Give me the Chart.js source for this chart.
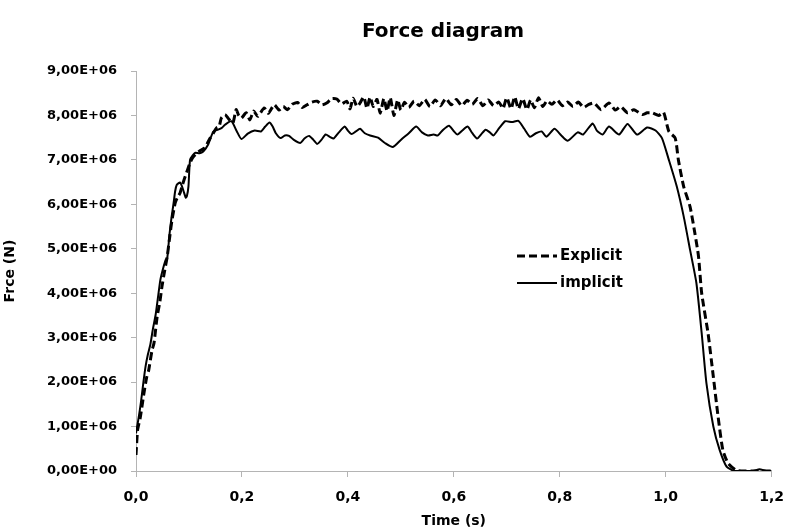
<!DOCTYPE html>
<html>
<head>
<meta charset="utf-8">
<script src="https://cdn.jsdelivr.net/npm/chart.js@4"></script>
<style>
  html, body { margin: 0; padding: 0; background: #fff; }
  #wrap { width: 796px; height: 532px; }
</style>
</head>
<body>
<div id="wrap"><canvas id="forceChart" width="796" height="532"></canvas></div>
<script>
// time in s, force in MN (1E+06 N)
const explicitTime = [0.000, 0.003, 0.008, 0.015, 0.020, 0.024, 0.030, 0.034, 0.040, 0.045, 0.049, 0.054, 0.059, 0.064, 0.068, 0.074, 0.078, 0.083, 0.088, 0.093, 0.098, 0.102, 0.107, 0.112, 0.120, 0.130, 0.135, 0.140, 0.146, 0.152, 0.157, 0.161, 0.168, 0.175, 0.183, 0.189, 0.194, 0.199, 0.208, 0.215, 0.222, 0.230, 0.242, 0.250, 0.261, 0.270, 0.278, 0.286, 0.295, 0.305, 0.314, 0.323, 0.332, 0.342, 0.351, 0.360, 0.370, 0.379, 0.388, 0.398, 0.404, 0.410, 0.417, 0.423, 0.430, 0.436, 0.442, 0.448, 0.455, 0.461, 0.468, 0.474, 0.480, 0.487, 0.494, 0.500, 0.507, 0.515, 0.525, 0.535, 0.545, 0.555, 0.565, 0.575, 0.585, 0.595, 0.605, 0.615, 0.625, 0.635, 0.645, 0.655, 0.665, 0.675, 0.685, 0.693, 0.700, 0.708, 0.715, 0.722, 0.730, 0.738, 0.745, 0.752, 0.760, 0.768, 0.776, 0.785, 0.795, 0.805, 0.815, 0.825, 0.835, 0.845, 0.855, 0.865, 0.878, 0.893, 0.905, 0.915, 0.928, 0.940, 0.956, 0.965, 0.974, 0.987, 0.996, 1.006, 1.018, 1.024, 1.034, 1.046, 1.055, 1.062, 1.068, 1.080, 1.090, 1.099, 1.108, 1.118, 1.133, 1.150, 1.200];
const explicitForce = [0.36, 0.92, 1.20, 1.75, 2.10, 2.27, 2.70, 2.88, 3.48, 3.80, 4.15, 4.50, 4.83, 5.30, 5.65, 6.03, 6.15, 6.25, 6.45, 6.63, 6.80, 6.93, 7.05, 7.12, 7.20, 7.27, 7.38, 7.49, 7.60, 7.72, 7.75, 7.94, 8.02, 7.92, 7.83, 8.13, 8.00, 7.94, 8.06, 7.90, 8.10, 7.98, 8.17, 8.05, 8.24, 8.12, 8.20, 8.13, 8.25, 8.29, 8.18, 8.24, 8.30, 8.32, 8.24, 8.28, 8.38, 8.37, 8.26, 8.32, 8.15, 8.39, 8.20, 8.28, 8.42, 8.16, 8.41, 8.20, 8.36, 8.05, 8.38, 8.10, 8.40, 8.00, 8.35, 8.12, 8.30, 8.18, 8.32, 8.22, 8.36, 8.20, 8.35, 8.22, 8.38, 8.24, 8.36, 8.22, 8.34, 8.25, 8.38, 8.22, 8.35, 8.22, 8.30, 8.16, 8.40, 8.15, 8.42, 8.15, 8.38, 8.13, 8.35, 8.17, 8.40, 8.20, 8.33, 8.25, 8.35, 8.22, 8.30, 8.20, 8.30, 8.18, 8.25, 8.28, 8.13, 8.28, 8.12, 8.20, 8.06, 8.13, 8.02, 8.06, 8.06, 8.00, 8.07, 7.64, 7.49, 7.00, 6.40, 5.95, 5.36, 4.83, 4.00, 3.10, 2.12, 1.22, 0.47, 0.17, 0.02, 0.00, 0.00];

const implicitTime = [0.000, 0.005, 0.009, 0.014, 0.018, 0.022, 0.027, 0.032, 0.037, 0.042, 0.046, 0.051, 0.056, 0.059, 0.063, 0.067, 0.071, 0.074, 0.077, 0.083, 0.087, 0.090, 0.094, 0.096, 0.099, 0.102, 0.107, 0.112, 0.120, 0.127, 0.136, 0.146, 0.155, 0.162, 0.168, 0.180, 0.190, 0.199, 0.211, 0.224, 0.236, 0.244, 0.252, 0.258, 0.264, 0.273, 0.281, 0.289, 0.298, 0.310, 0.318, 0.327, 0.335, 0.342, 0.350, 0.358, 0.366, 0.373, 0.383, 0.394, 0.400, 0.407, 0.415, 0.423, 0.432, 0.442, 0.457, 0.470, 0.485, 0.500, 0.515, 0.529, 0.540, 0.551, 0.562, 0.570, 0.580, 0.591, 0.599, 0.607, 0.616, 0.626, 0.635, 0.644, 0.652, 0.660, 0.668, 0.675, 0.686, 0.697, 0.710, 0.722, 0.733, 0.744, 0.755, 0.766, 0.775, 0.790, 0.803, 0.815, 0.834, 0.844, 0.862, 0.870, 0.881, 0.893, 0.912, 0.928, 0.946, 0.965, 0.981, 0.993, 1.006, 1.021, 1.034, 1.046, 1.058, 1.068, 1.077, 1.090, 1.102, 1.115, 1.130, 1.165, 1.177, 1.190, 1.200];
const implicitForce = [0.85, 1.20, 1.52, 2.00, 2.35, 2.60, 2.84, 3.20, 3.51, 3.95, 4.30, 4.55, 4.75, 4.79, 5.30, 5.70, 6.03, 6.30, 6.44, 6.49, 6.40, 6.29, 6.15, 6.18, 6.40, 7.00, 7.10, 7.16, 7.15, 7.19, 7.34, 7.64, 7.68, 7.72, 7.79, 7.87, 7.65, 7.47, 7.59, 7.66, 7.64, 7.75, 7.84, 7.75, 7.60, 7.49, 7.55, 7.54, 7.45, 7.38, 7.48, 7.54, 7.45, 7.36, 7.45, 7.57, 7.52, 7.48, 7.62, 7.75, 7.66, 7.58, 7.64, 7.70, 7.60, 7.55, 7.50, 7.38, 7.29, 7.45, 7.60, 7.75, 7.62, 7.55, 7.57, 7.55, 7.68, 7.77, 7.66, 7.57, 7.66, 7.75, 7.60, 7.48, 7.58, 7.68, 7.62, 7.55, 7.72, 7.87, 7.85, 7.88, 7.70, 7.52, 7.60, 7.64, 7.52, 7.70, 7.55, 7.43, 7.62, 7.57, 7.82, 7.66, 7.57, 7.75, 7.57, 7.81, 7.57, 7.73, 7.66, 7.49, 7.00, 6.40, 5.73, 4.98, 4.23, 3.10, 1.97, 1.00, 0.47, 0.10, 0.00, 0.00, 0.04, 0.00, 0.00];

const seriesNames = ['Explicit', 'implicit'];
const xTickLabels = ['0,0', '0,2', '0,4', '0,6', '0,8', '1,0', '1,2'];
const yTickLabels = ['0,00E+00', '1,00E+06', '2,00E+06', '3,00E+06', '4,00E+06', '5,00E+06', '6,00E+06', '7,00E+06', '8,00E+06', '9,00E+06'];

const FONT = '"DejaVu Sans", sans-serif';
const AXIS_GREY = '#b4b4b4';

function toPoints(ts, fs) {
  return ts.map((t, i) => ({ x: t, y: fs[i] * 1e6 }));
}

// title + legend drawn at the spots used in the original picture
const annotations = {
  id: 'annotations',
  afterDraw(chart) {
    const ctx = chart.ctx;
    ctx.save();
    ctx.fillStyle = '#000';
    ctx.font = 'bold 20px ' + FONT;
    ctx.textAlign = 'center';
    ctx.textBaseline = 'middle';
    ctx.fillText('Force diagram', 443, 32);

    const rows = [
      { label: seriesNames[0], y: 256, dash: [8, 4], width: 3 },
      { label: seriesNames[1], y: 283, dash: [], width: 2 }
    ];
    ctx.font = 'bold 15px ' + FONT;
    ctx.textAlign = 'left';
    rows.forEach(r => {
      ctx.beginPath();
      ctx.setLineDash(r.dash);
      ctx.lineWidth = r.width;
      ctx.strokeStyle = '#000';
      ctx.moveTo(517, r.y);
      ctx.lineTo(557, r.y);
      ctx.stroke();
      ctx.setLineDash([]);
      ctx.fillText(r.label, 560, r.y);
    });
    ctx.restore();
  }
};

const ctx = document.getElementById('forceChart').getContext('2d');
new Chart(ctx, {
  type: 'line',
  data: {
    datasets: [
      {
        label: seriesNames[0],
        data: toPoints(explicitTime, explicitForce),
        borderColor: '#000',
        borderWidth: 3,
        borderDash: [8, 4],
        pointRadius: 0,
        tension: 0.2,
        fill: false
      },
      {
        label: seriesNames[1],
        data: toPoints(implicitTime, implicitForce),
        borderColor: '#000',
        borderWidth: 2,
        pointRadius: 0,
        tension: 0.2,
        fill: false
      }
    ]
  },
  options: {
    responsive: false,
    animation: false,
    layout: { padding: { top: 71, right: 17, left: 0, bottom: 0 } },
    plugins: {
      legend: { display: false },
      title: { display: false },
      tooltip: { enabled: false }
    },
    scales: {
      x: {
        type: 'linear',
        min: 0,
        max: 1.2,
        afterFit: s => { s.height = 61; },
        ticks: {
          stepSize: 0.2,
          padding: 12,
          color: '#000',
          font: { family: FONT, size: 14, weight: 'bold' },
          callback: (v, i) => xTickLabels[i]
        },
        grid: { drawOnChartArea: false, drawTicks: true, tickLength: 6, color: AXIS_GREY },
        border: { color: AXIS_GREY, width: 1 },
        title: {
          display: true,
          text: 'Time (s)',
          color: '#000',
          font: { family: FONT, size: 14, weight: 'bold' },
          padding: { top: 2, bottom: 2 }
        }
      },
      y: {
        min: 0,
        max: 9e6,
        afterFit: s => { s.width = 136; },
        ticks: {
          stepSize: 1e6,
          padding: 14,
          color: '#000',
          font: { family: FONT, size: 13, weight: 'bold' },
          callback: (v, i) => yTickLabels[i]
        },
        grid: { drawOnChartArea: false, drawTicks: true, tickLength: 5, color: AXIS_GREY },
        border: { color: AXIS_GREY, width: 1 },
        title: {
          display: true,
          text: 'Frce (N)',
          color: '#000',
          font: { family: FONT, size: 14, weight: 'bold' },
          padding: { top: 2, bottom: 4 }
        }
      }
    }
  },
  plugins: [annotations]
});
</script>
</body>
</html>
